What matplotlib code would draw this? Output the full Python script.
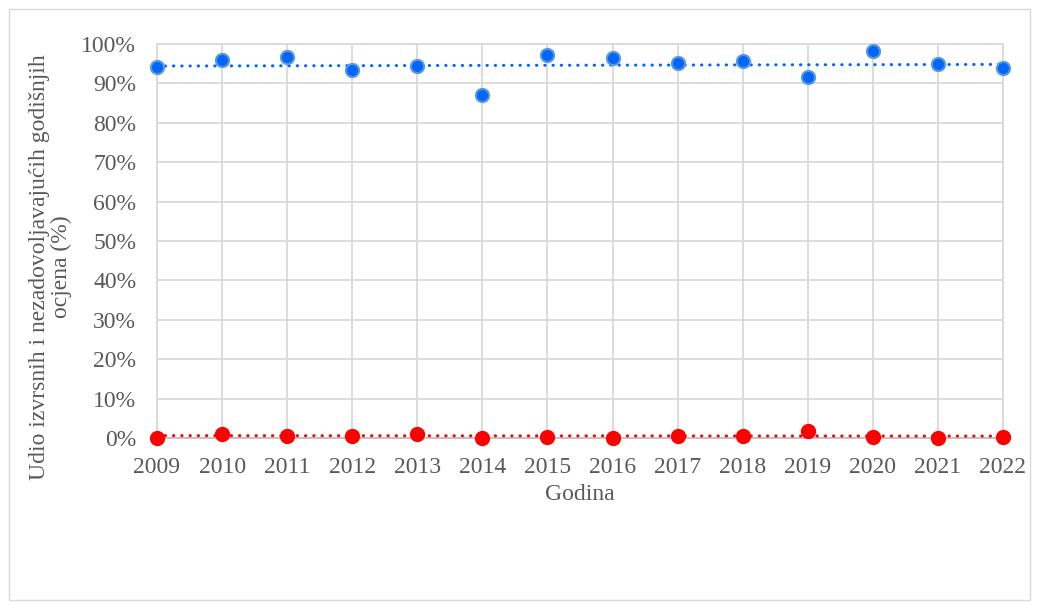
import numpy as np
import matplotlib
matplotlib.use("Agg")
import matplotlib.pyplot as plt
from matplotlib.patches import Rectangle

plt.rcParams['font.family'] = ['Liberation Serif', 'DejaVu Serif']

# data
years = [2009, 2010, 2011, 2012, 2013, 2014, 2015, 2016, 2017, 2018, 2019, 2020, 2021, 2022]
izvrsni = [94.1, 95.9, 96.8, 93.4, 94.5, 87.0, 97.2, 96.4, 95.1, 95.7, 91.6, 98.2, 94.9, 93.8]
nezadovoljni = [0.1, 1.1, 0.6, 0.6, 1.1, 0.0, 0.3, 0.1, 0.6, 0.6, 1.9, 0.3, 0.0, 0.3]
y_ticks = [0, 10, 20, 30, 40, 50, 60, 70, 80, 90, 100]

text_col = '#595959'
grid_col = '#d9d9d9'
fs = 17

fig = plt.figure(figsize=(10.37, 6.08), dpi=100)
ax = fig.add_axes([157 / 1037, 1 - 438 / 608, (1003 - 157) / 1037, (438 - 44) / 608])

# outer chart border
fig.patches.append(Rectangle((9 / 1037, 8 / 608), 1021 / 1037, 591 / 608,
                             transform=fig.transFigure, fill=False,
                             edgecolor='#d9d9d9', linewidth=1))

x = np.array(years, dtype=float)
for vals, face, edge in [(izvrsni, '#0066ff', '#5b9bd5'), (nezadovoljni, '#ff0000', '#ff0000')]:
    # linear trend line, dotted like Excel
    k, b = np.polyfit(x, vals, 1)
    ax.plot(x, k * x + b, color=face, linewidth=2.2, linestyle=(0, (0.1, 2.6)),
            dash_capstyle='round', zorder=3, clip_on=False)
    ax.plot(x, vals, linestyle='none', marker='o', markersize=9.5,
            markerfacecolor=face, markeredgecolor=edge, markeredgewidth=1.5,
            zorder=4, clip_on=False)

ax.set_xlim(2009, 2022)
ax.set_ylim(0, 100)
ax.set_xticks(years)
ax.set_yticks(y_ticks)
ax.set_yticklabels([f'{v}%' for v in y_ticks])
ax.grid(True, color=grid_col, linewidth=1.3)
ax.set_axisbelow(True)
for s in ['top', 'right', 'left']:
    ax.spines[s].set_color(grid_col)
    ax.spines[s].set_linewidth(1.3)
ax.spines['bottom'].set_color('#bfbfbf')
ax.spines['bottom'].set_linewidth(1.3)
ax.tick_params(length=0, labelsize=fs, labelcolor=text_col)
ax.tick_params(axis='x', pad=14)
ax.tick_params(axis='y', pad=15)

ax.set_xlabel('Godina', fontsize=fs, color=text_col, labelpad=4)
ax.set_ylabel('Udio izvrsnih i nezadovoljavajućih godišnjih\nocjena (%)',
              fontsize=fs, color=text_col, linespacing=1.1)
ax.yaxis.set_label_coords(-0.100, 0.434)

fig.savefig('out.png', dpi=100)
